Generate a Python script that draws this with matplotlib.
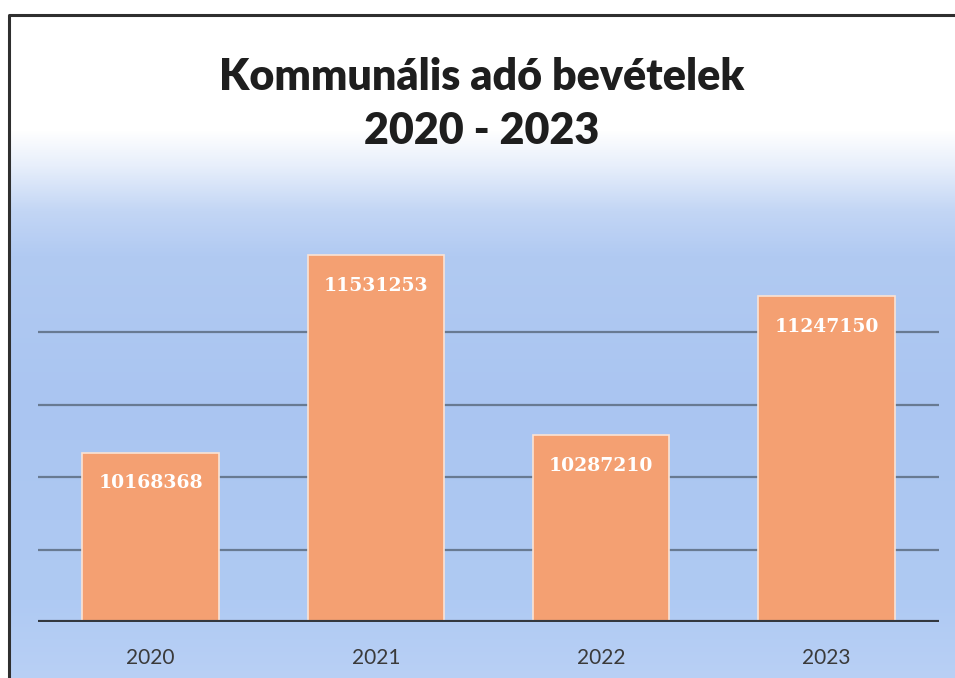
import numpy as np
import matplotlib
matplotlib.use("Agg")
import matplotlib.pyplot as plt
from matplotlib.colors import to_rgb

# Adatok (Kommunális adó bevételek, Ft)
years = ["2020", "2021", "2022", "2023"]
revenue = [10168368, 11531253, 10287210, 11247150]
grid_values = [9500000, 10000000, 10500000, 11000000]

title_text = "Kommunális adó bevételek\n2020 - 2023"

W, H = 955, 678
fig = plt.figure(figsize=(W / 100, H / 100), dpi=100)

# háttér: fehérből kékbe menő színátmenet
bg = fig.add_axes([0, 0, 1, 1], zorder=-1)
bg.set_xlim(0, W)
bg.set_ylim(H, 0)
bg.axis("off")
stops_y = [15, 130, 165, 210, 255, 400, 600, 678]
stops_c = ["#ffffff", "#ffffff", "#e8effb", "#c3d6f5", "#b1caf2",
           "#aac5f1", "#afcaf3", "#b9d0f5"]
ys = np.arange(15, H)
rgb = np.array([to_rgb(c) for c in stops_c])
grad = np.stack([np.interp(ys, stops_y, rgb[:, k]) for k in range(3)], axis=1)
bg.imshow(grad[:, None, :], extent=(9, W, H, 15), aspect="auto")
bg.plot([9, 9, W], [H, 15, 15], color="#2f2f2f", lw=2.2, solid_capstyle="butt")

bg.text(482, 104, title_text, ha="center", va="center", family="Lato",
        fontweight="heavy", fontsize=31, color="#1e1e1e", linespacing=1.45)

# diagram
ax = fig.add_axes([38 / W, 56 / H, (939 - 38) / W, (622 - 187) / H])
ax.set_facecolor("none")
x = np.arange(len(years))
bars = ax.bar(x, revenue, width=0.605, color="#f4a072",
              edgecolor="#fbe3d4", linewidth=1.2, zorder=3)
ax.set_xlim(-0.5, len(years) - 0.5)
ax.set_ylim(9000000, 12000000)

for v in grid_values:
    ax.axhline(v, color="#687a92", lw=1.6, zorder=1)
ax.axhline(9000000, color="#33383f", lw=3, zorder=4)

for xi, v in zip(x, revenue):
    ax.annotate(str(v), (xi, v), xytext=(0, -22), textcoords="offset points",
                ha="center", va="center", color="white", fontsize=13.5,
                fontweight="bold", family="DejaVu Serif", zorder=5)

ax.set_xticks(x)
ax.set_xticklabels(years, family="Lato", fontsize=15, color="#3a3a3a")
ax.tick_params(axis="x", length=0, pad=19)
ax.set_yticks([])
for s in ax.spines.values():
    s.set_visible(False)

fig.savefig("out.png", dpi=100)
